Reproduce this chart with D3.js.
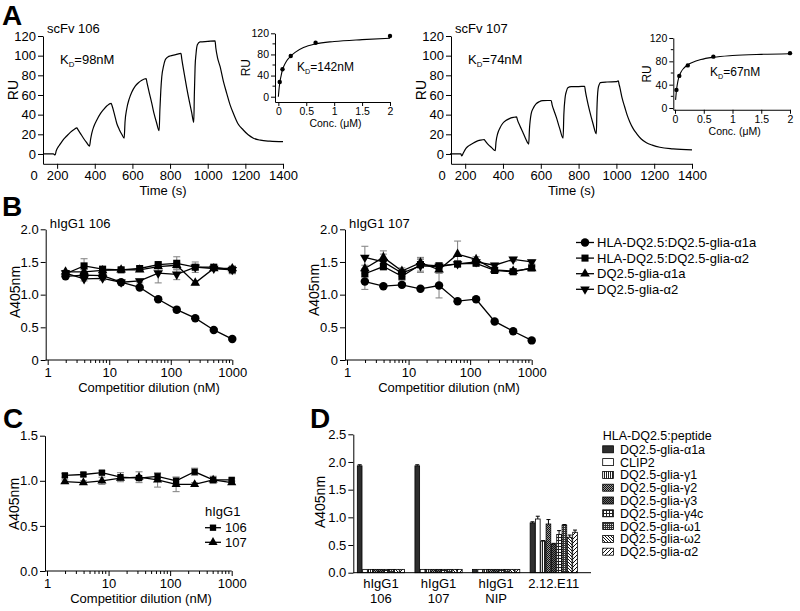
<!DOCTYPE html>
<html><head><meta charset="utf-8">
<script src="https://cdn.jsdelivr.net/npm/d3@7/dist/d3.min.js"></script>
<style>html,body{margin:0;padding:0;background:#fff}</style>
</head><body>
<svg id="fig" width="800" height="611" xmlns="http://www.w3.org/2000/svg"></svg>
<script>
// ================= DATA =================
// Panel A – sensorgrams
const timeTickLabels = [0, 200, 400, 600, 800, 1000, 1200, 1400];
const ruTicks = [0, 20, 40, 60, 80, 100, 120];
const sensorTime106 = [127,150,180,189,195,205,216,235,251,270,290,305,310,325,340,355,372,
  378,384,395,411,430,446,465,487,492,505,517,530,545,556,
  561,570,583,597,615,632,650,673,678,690,703,715,728,742,
  746,751,756,765,774,787,800,830,858,862,875,889,903,915,926,
  929,933,938,945,959,1000,1039,1043,1052,1066,1083,1101,1118,1136,1160,1189,1215,1243,1280,1330,1400];
const sensorRU106 = [0,0,0,-1,3,7,10,15,18.3,22,25,26.5,25,20.5,16,12,8,
  15,21,28,34.6,41,45,49,51.5,49,40,31,25,19.5,16,
  33,46,56,63,69,72.5,75,76.6,72,62,51.5,41,32,23.7,
  45,65,78.6,89,95.6,98.5,99.7,101,102.4,97,82,66.8,53,42,32.2,
  60,88.8,102,111,114,114.5,115,108,98,88.8,74,61.7,50.5,41.4,31,24.4,19.5,16,14,13,12.5];
const sensorTime107 = [120,150,177,182,190,204,220,239,260,280,301,305,320,340,359,
  363,372,384,398,415,434,455,472,476,490,504,520,536,
  540,549,560,575,592,611,635,655,660,670,682,700,718,
  722,729,736,743,761,800,832,836,845,858,876,894,
  897,903,909,915,950,1000,1010,1014,1018,1030,1044,1057,1071,1088,1106,1130,1159,1190,1230,1300,1400];
const sensorRU107 = [0,0,0,-2,1,5.7,8.5,10.7,12.8,14,14.7,13.5,10,6.5,3.4,
  12,20.8,26.5,31,34,36,37.2,37.8,35,28.5,22.6,15.5,10.1,
  25,40.8,46.5,51,53.2,54.2,54.4,54.4,50,44,37.5,26,16,
  40,57.8,64,67.3,68.6,68.6,68.8,64,55,44,31,20.5,
  45,66,70.5,72.6,73.2,73.5,74.5,71,68,57,47.8,39.5,32.6,26,21,15.5,11.4,9,6.8,5.2,4.2];
// Panel A – insets (steady-state)
const concPoints = [0.0247, 0.074, 0.222, 0.667, 2];
const insetRU106 = [27.8, 51.9, 77, 102, 115];
const insetRU107 = [31, 55, 73, 88, 94];
const fitConc106 = [0, 0.01, 0.025, 0.05, 0.074, 0.1, 0.15, 0.222, 0.3, 0.45, 0.667, 1, 1.5, 2];
const fitRU106 = [0, 12, 26, 40, 51, 58, 68, 77, 84, 93, 100, 104.5, 108, 110.5];
const fitConc107 = [0.01, 0.025, 0.05, 0.074, 0.1, 0.15, 0.222, 0.3, 0.45, 0.667, 1, 1.5, 2];
const fitRU107 = [14, 30, 46, 55, 61, 68, 74, 78, 83, 87, 90, 92, 93];
const insetConcTicks = [0, 0.5, 1, 1.5, 2];
const insetRUTicks = [0, 40, 80, 120];
const insetRUMinor = [20, 60, 100];

// Panels B / C – competition ELISA
const dilutions = [1.95, 3.9, 7.8, 15.6, 31.25, 62.5, 125, 250, 500, 1000];
const logTicks = [1, 10, 100, 1000];
const bYTicks = [0, 0.5, 1, 1.5, 2];
const bYTickLabels = ["0", "0.5", "1.0", "1.5", "2.0"];
const bSeriesNames = ["HLA-DQ2.5:DQ2.5-glia-α1a", "HLA-DQ2.5:DQ2.5-glia-α2", "DQ2.5-glia-α1a", "DQ2.5-glia-α2"];
const b106_HLAa1a = [1.28, 1.30, 1.29, 1.19, 1.11, 0.93, 0.77, 0.64, 0.46, 0.32];
const b106_HLAa1a_err = [0.02, 0.02, 0.02, 0.02, 0.02, 0.02, 0.04, 0.02, 0.02, 0.02];
const b106_HLAa2 = [1.32, 1.44, 1.39, 1.38, 1.40, 1.46, 1.48, 1.42, 1.42, 1.38];
const b106_HLAa2_err = [0.03, 0.11, 0.03, 0.03, 0.03, 0.04, 0.10, 0.08, 0.03, 0.06];
const b106_a1a = [1.35, 1.35, 1.37, 1.38, 1.38, 1.43, 1.45, 1.18, 1.40, 1.40];
const b106_a1a_err = [0.02, 0.03, 0.02, 0.02, 0.02, 0.03, 0.04, 0.03, 0.02, 0.03];
const b106_a2 = [1.33, 1.24, 1.25, 1.19, 1.21, 1.33, 1.31, 1.42, 1.40, 1.38];
const b106_a2_err = [0.02, 0.03, 0.03, 0.02, 0.03, 0.15, 0.08, 0.03, 0.02, 0.02];
const b107_HLAa1a = [1.20, 1.13, 1.15, 1.09, 1.14, 0.90, 0.93, 0.59, 0.44, 0.30];
const b107_HLAa1a_err = [0.12, 0.02, 0.03, 0.02, 0.19, 0.02, 0.02, 0.02, 0.02, 0.02];
const b107_HLAa2 = [1.32, 1.43, 1.28, 1.46, 1.44, 1.47, 1.48, 1.37, 1.35, 1.41];
const b107_HLAa2_err = [0.05, 0.05, 0.06, 0.10, 0.05, 0.04, 0.03, 0.04, 0.03, 0.03];
const b107_a1a = [1.40, 1.57, 1.36, 1.49, 1.38, 1.62, 1.54, 1.38, 1.36, 1.40];
const b107_a1a_err = [0.05, 0.10, 0.05, 0.08, 0.05, 0.20, 0.04, 0.04, 0.03, 0.03];
const b107_a2 = [1.57, 1.50, 1.33, 1.44, 1.43, 1.47, 1.50, 1.45, 1.54, 1.50];
const b107_a2_err = [0.17, 0.12, 0.05, 0.10, 0.04, 0.04, 0.03, 0.03, 0.03, 0.03];

const cYTicks = [0, 0.5, 1, 1.5];
const cYTickLabels = ["0.0", "0.5", "1.0", "1.5"];
const cSeriesNames = ["106", "107"];
const c106 = [1.06, 1.07, 1.09, 1.04, 1.03, 1.05, 1.00, 1.10, 1.01, 1.01];
const c106_err = [0.02, 0.02, 0.02, 0.05, 0.02, 0.03, 0.04, 0.04, 0.04, 0.02];
const c107 = [0.99, 0.98, 1.00, 1.03, 1.04, 1.01, 0.96, 0.96, 1.01, 0.98];
const c107_err = [0.02, 0.02, 0.04, 0.02, 0.06, 0.08, 0.08, 0.02, 0.02, 0.02];

// Panel D – peptide specificity
const dYTicks = [0, 0.5, 1, 1.5, 2, 2.5];
const dGroups = ["hIgG1 106", "hIgG1 107", "hIgG1 NIP", "2.12.E11"];
const dGroupLabelLines = [["hIgG1", "106"], ["hIgG1", "107"], ["hIgG1", "NIP"], ["2.12.E11"]];
const dPeptides = ["DQ2.5-glia-α1a", "CLIP2", "DQ2.5-glia-γ1", "DQ2.5-glia-γ2", "DQ2.5-glia-γ3", "DQ2.5-glia-γ4c", "DQ2.5-glia-ω1", "DQ2.5-glia-ω2", "DQ2.5-glia-α2"];
const dVals106 = [1.93, 0.06, 0.06, 0.06, 0.06, 0.06, 0.06, 0.06, 0.06];
const dErr106 = [0.02, 0, 0, 0, 0, 0, 0, 0, 0];
const dVals107 = [1.93, 0.06, 0.06, 0.06, 0.06, 0.06, 0.06, 0.06, 0.06];
const dErr107 = [0.02, 0, 0, 0, 0, 0, 0, 0, 0];
const dValsNIP = [0.06, 0.06, 0.06, 0.06, 0.06, 0.06, 0.06, 0.06, 0.06];
const dErrNIP = [0, 0, 0, 0, 0, 0, 0, 0, 0];
const dVals212 = [0.90, 0.97, 0.57, 0.88, 0.52, 0.69, 0.86, 0.64, 0.73];
const dErr212 = [0.02, 0.05, 0.01, 0.08, 0.01, 0.07, 0.01, 0.04, 0.04];

// ================= DRAWING =================
const FONT = '"Liberation Sans", Arial, Helvetica, sans-serif';
const svg = d3.select("#fig").attr("font-family", FONT);
const defs = svg.append("defs");

function fmtAxis(g, fs) {
  g.attr("font-family", FONT).attr("font-size", fs);
  g.select(".domain").attr("stroke", "#000").attr("stroke-width", 1);
  g.selectAll(".tick line").attr("stroke", "#000");
  g.selectAll(".tick text").attr("fill", "#000");
  return g;
}
function txt(x, y, s, fs, opt = {}) {
  const t = svg.append("text").attr("x", x).attr("y", y).attr("font-size", fs).attr("fill", "#000").text(s);
  if (opt.anchor) t.attr("text-anchor", opt.anchor);
  if (opt.weight) t.attr("font-weight", opt.weight);
  if (opt.rotate) t.attr("transform", `rotate(-90,${x},${y})`);
  return t;
}
function kd(x, y, val, fs) {
  const t = svg.append("text").attr("x", x).attr("y", y).attr("font-size", fs).attr("fill", "#000");
  t.append("tspan").text("K");
  t.append("tspan").attr("font-size", fs * 0.6).attr("dy", 3).text("D");
  t.append("tspan").attr("dy", -3).text("=" + val);
}

// ---- Panel A ----
function sensorPanel(x0, x1, times, rus, title, kdText) {
  const x = d3.scaleLinear().domain([125, 1400]).range([x0, x1]);
  const y = d3.scaleLinear().domain([-10, 120]).range([163.8, 36]);
  fmtAxis(svg.append("g").attr("transform", `translate(${x0},0)`)
    .call(d3.axisLeft(y).tickValues(ruTicks).tickSize(5).tickSizeOuter(0).tickPadding(2)), 13);
  fmtAxis(svg.append("g").attr("transform", `translate(0,${y(-10)})`)
    .call(d3.axisBottom(x).tickValues(timeTickLabels.filter(v => v >= 125)).tickFormat(d => String(d))
      .tickSize(5).tickSizeOuter(0).tickPadding(2)), 13);
  txt(x0 - 9, y(-10) + 16, String(timeTickLabels[0]), 13, { anchor: "middle" });
  const line = d3.line().x(d => x(d[0])).y(d => y(d[1])).curve(d3.curveMonotoneX);
  svg.append("path").datum(d3.zip(times, rus)).attr("d", line)
    .attr("fill", "none").attr("stroke", "#000").attr("stroke-width", 1.2);
  txt(x0 + 4, 33, title, 13);
  kd(x0 + 17, 64, kdText, 13);
  txt(x0 - 25, 90, "RU", 14, { anchor: "middle", rotate: true });
  txt((x0 + x1) / 2, 195, "Time (s)", 13, { anchor: "middle" });
}
function insetPanel(c) {
  const x = d3.scaleLinear().domain(c.xDom).range([c.x0, c.x1]);
  const y = d3.scaleLinear().domain(c.yDom).range([c.yB, c.yT]);
  fmtAxis(svg.append("g").attr("transform", `translate(${c.x0},0)`)
    .call(d3.axisLeft(y).tickValues(insetRUTicks).tickSize(4).tickSizeOuter(0).tickPadding(2)), 10.5);
  svg.append("g").selectAll("line").data(insetRUMinor).join("line")
    .attr("x1", c.x0 - 2.5).attr("x2", c.x0).attr("y1", d => y(d)).attr("y2", d => y(d)).attr("stroke", "#000");
  fmtAxis(svg.append("g").attr("transform", `translate(0,${c.yB})`)
    .call(d3.axisBottom(x).tickValues(insetConcTicks).tickFormat(d => String(d)).tickSize(4).tickSizeOuter(0).tickPadding(1.5)), 10.5);
  const line = d3.line().x(d => x(d[0])).y(d => y(d[1])).curve(d3.curveMonotoneX);
  svg.append("path").datum(d3.zip(c.fitX, c.fitY)).attr("d", line)
    .attr("fill", "none").attr("stroke", "#000").attr("stroke-width", 1.1);
  svg.append("g").selectAll("circle").data(d3.zip(concPoints, c.pts)).join("circle")
    .attr("cx", d => x(d[0])).attr("cy", d => y(d[1])).attr("r", 2.2).attr("fill", "#000");
  txt(c.ruX, (c.yB + c.yT) / 2, "RU", 12, { anchor: "middle", rotate: true });
  txt((c.x0 + c.x1) / 2 + 3, c.yB + 25, "Conc. (μM)", 10.5, { anchor: "middle" });
  kd(c.kdX, c.kdY, c.kdText, 12);
}

sensorPanel(43, 283, sensorTime106, sensorRU106, "scFv 106", "98nM");
sensorPanel(451, 692, sensorTime107, sensorRU107, "scFv 107", "74nM");
insetPanel({ xDom: [-0.06, 2], x0: 275, x1: 390, yDom: [-10, 120], yB: 102, yT: 33.3,
  fitX: fitConc106, fitY: fitRU106, pts: insetRU106, ruX: 250, kdX: 297, kdY: 71, kdText: "142nM" });
insetPanel({ xDom: [-0.03, 2], x0: 673.3, x1: 790, yDom: [-3, 120], yB: 109.75, yT: 38,
  fitX: fitConc107, fitY: fitRU107, pts: insetRU107, ruX: 651, kdX: 710, kdY: 76, kdText: "67nM" });

// ---- Panels B / C ----
const symType = { circle: d3.symbolCircle, square: d3.symbolSquare, up: d3.symbolTriangle, down: d3.symbolTriangle };
function marker(g, type, cx, cy, size) {
  g.append("path").attr("d", d3.symbol().type(symType[type]).size(size)())
    .attr("transform", `translate(${cx},${cy})` + (type === "down" ? " rotate(180)" : ""))
    .attr("fill", "#000");
}
function logPanel(c) {
  const x = d3.scaleLog().domain([1, 1000]).range([c.x0 + 2, c.x1]);
  const y = d3.scaleLinear().domain([0, c.yMax]).range([c.yB, c.yT]);
  fmtAxis(svg.append("g").attr("transform", `translate(${c.x0},0)`)
    .call(d3.axisLeft(y).tickValues(c.yTicks).tickFormat((d, i) => c.yLabels[i]).tickSize(5).tickSizeOuter(0).tickPadding(2)), 13);
  const gx = fmtAxis(svg.append("g").attr("transform", `translate(0,${c.yB})`)
    .call(d3.axisBottom(x).tickValues(logTicks).tickFormat(d => String(d)).tickSize(5).tickSizeOuter(0).tickPadding(3)), 13);
  gx.select(".domain").remove();
  svg.append("line").attr("x1", c.x0).attr("x2", c.x1).attr("y1", c.yB).attr("y2", c.yB).attr("stroke", "#000");
  const minor = [];
  [1, 10, 100].forEach(dec => { for (let k = 2; k <= 9; k++) minor.push(dec * k); });
  svg.append("g").selectAll("line").data(minor).join("line")
    .attr("x1", d => x(d)).attr("x2", d => x(d)).attr("y1", c.yB).attr("y2", c.yB + 3).attr("stroke", "#000");
  const g = svg.append("g");
  c.series.forEach(s => {
    s.vals.forEach((v, i) => {
      const e = s.err[i], cx = x(dilutions[i]);
      if (e <= 0) return;
      const eg = g.append("g").attr("stroke", "#8a8a8a").attr("stroke-width", 1.1);
      eg.append("line").attr("x1", cx).attr("x2", cx).attr("y1", y(v - e)).attr("y2", y(v + e));
      eg.append("line").attr("x1", cx - 3.5).attr("x2", cx + 3.5).attr("y1", y(v - e)).attr("y2", y(v - e));
      eg.append("line").attr("x1", cx - 3.5).attr("x2", cx + 3.5).attr("y1", y(v + e)).attr("y2", y(v + e));
    });
  });
  const line = d3.line().x(d => x(d[0])).y(d => y(d[1]));
  c.series.forEach(s => {
    g.append("path").datum(d3.zip(dilutions, s.vals)).attr("d", line)
      .attr("fill", "none").attr("stroke", "#000").attr("stroke-width", 1.3);
  });
  c.series.forEach(s => {
    s.vals.forEach((v, i) => marker(g, s.type, x(dilutions[i]), y(v), s.size));
  });
  txt(c.titleX, c.yB + 32, "Competitior dilution (nM)", 13, { anchor: "middle" });
  txt(c.x0 - 26, c.yLabelY, "A405nm", 14, { anchor: "middle", rotate: true });
  if (c.title) txt(c.x0 + 4, c.yT - 1, c.title, 13);
}

logPanel({ x0: 45.7, x1: 232.3, yB: 360, yT: 229.3, yMax: 2, yTicks: bYTicks, yLabels: bYTickLabels,
  title: "hIgG1 106", titleX: 149, yLabelY: 292,
  series: [
    { vals: b106_HLAa1a, err: b106_HLAa1a_err, type: "circle", size: 56 },
    { vals: b106_HLAa2, err: b106_HLAa2_err, type: "square", size: 50 },
    { vals: b106_a1a, err: b106_a1a_err, type: "up", size: 40 },
    { vals: b106_a2, err: b106_a2_err, type: "down", size: 40 }
  ] });
logPanel({ x0: 345, x1: 531.7, yB: 360, yT: 229.3, yMax: 2, yTicks: bYTicks, yLabels: bYTickLabels,
  title: "hIgG1 107", titleX: 449, yLabelY: 290,
  series: [
    { vals: b107_HLAa1a, err: b107_HLAa1a_err, type: "circle", size: 56 },
    { vals: b107_HLAa2, err: b107_HLAa2_err, type: "square", size: 50 },
    { vals: b107_a1a, err: b107_a1a_err, type: "up", size: 40 },
    { vals: b107_a2, err: b107_a2_err, type: "down", size: 40 }
  ] });
logPanel({ x0: 45, x1: 231.7, yB: 571, yT: 435.7, yMax: 1.5, yTicks: cYTicks, yLabels: cYTickLabels,
  title: null, titleX: 141, yLabelY: 504,
  series: [
    { vals: c106, err: c106_err, type: "square", size: 40 },
    { vals: c107, err: c107_err, type: "up", size: 36 }
  ] });

// legend B
const bTypes = ["circle", "square", "up", "down"];
bSeriesNames.forEach((name, i) => {
  const yy = 242.5 + i * 15.6;
  const g = svg.append("g");
  g.append("line").attr("x1", 576).attr("x2", 594).attr("y1", yy).attr("y2", yy).attr("stroke", "#000").attr("stroke-width", 1.3);
  marker(g, bTypes[i], 585, yy, bTypes[i] === "circle" ? 56 : (bTypes[i] === "square" ? 50 : 40));
  txt(597, yy + 4.6, name, 13);
});
// legend C
txt(205, 516, "hIgG1", 13);
const cTypes = ["square", "up"];
cSeriesNames.forEach((name, i) => {
  const yy = 527.7 + i * 14.6;
  const g = svg.append("g");
  g.append("line").attr("x1", 205).attr("x2", 221).attr("y1", yy).attr("y2", yy).attr("stroke", "#000").attr("stroke-width", 1.3);
  marker(g, cTypes[i], 213, yy, cTypes[i] === "square" ? 40 : 36);
  txt(225, yy + 4.6, name, 13);
});

// ---- Panel D ----
function mkPat(id, size, bg, draw) {
  const p = defs.append("pattern").attr("id", id).attr("patternUnits", "userSpaceOnUse").attr("width", size).attr("height", size);
  p.append("rect").attr("width", size).attr("height", size).attr("fill", bg);
  draw(p);
}
mkPat("pG1", 2, "#fff", p => p.append("rect").attr("width", 1).attr("height", 2).attr("fill", "#222"));
mkPat("pG2", 2, "#999", p => { p.append("rect").attr("width", 1).attr("height", 1).attr("fill", "#111"); p.append("rect").attr("x", 1).attr("y", 1).attr("width", 1).attr("height", 1).attr("fill", "#111"); });
mkPat("pG3", 2, "#666", p => { p.append("rect").attr("width", 1).attr("height", 1).attr("fill", "#111"); p.append("rect").attr("x", 1).attr("y", 1).attr("width", 1).attr("height", 1).attr("fill", "#111"); });
mkPat("pG4", 3, "#fff", p => { p.append("rect").attr("width", 1).attr("height", 3).attr("fill", "#222"); p.append("rect").attr("width", 3).attr("height", 1).attr("fill", "#222"); });
mkPat("pW1", 2, "#333", p => p.append("rect").attr("width", 1).attr("height", 1).attr("fill", "#ddd"));
mkPat("pW2", 3, "#fff", p => p.append("path").attr("d", "M-1,-1L4,4M-1,2L1,4M2,-1L4,1").attr("stroke", "#111").attr("stroke-width", 1));
mkPat("pA2", 4, "#fff", p => p.append("path").attr("d", "M-1,5L5,-1M-1,1L1,-1M3,5L5,3").attr("stroke", "#111").attr("stroke-width", 1));
const barFills = ["#2e2e2e", "#fff", "url(#pG1)", "url(#pG2)", "url(#pG3)", "url(#pG4)", "url(#pW1)", "url(#pW2)", "url(#pA2)"];

(function () {
  const x0 = 353.3;
  const y = d3.scaleLinear().domain([0, 2.5]).range([572.7, 434.3]);
  const xg = d3.scaleBand().domain(dGroups).range([x0, 581.4]).paddingInner(0.18).paddingOuter(0.07);
  const xb = d3.scaleBand().domain(dPeptides).range([0, xg.bandwidth()]).paddingInner(0.12);
  fmtAxis(svg.append("g").attr("transform", `translate(${x0},0)`)
    .call(d3.axisLeft(y).tickValues(dYTicks).tickFormat(d3.format(".1f")).tickSize(5).tickSizeOuter(0).tickPadding(2)), 13);
  const groupVals = [[dVals106, dErr106], [dVals107, dErr107], [dValsNIP, dErrNIP], [dVals212, dErr212]];
  dGroups.forEach((gname, gi) => {
    const [vals, errs] = groupVals[gi];
    const gx = xg(gname);
    dPeptides.forEach((p, pi) => {
      const bx = gx + xb(p), bw = xb.bandwidth(), v = vals[pi], e = errs[pi];
      if (e > 0) {
        const cx = bx + bw / 2;
        svg.append("line").attr("x1", cx).attr("x2", cx).attr("y1", y(v)).attr("y2", y(v + e)).attr("stroke", "#000");
        svg.append("line").attr("x1", cx - 2).attr("x2", cx + 2).attr("y1", y(v + e)).attr("y2", y(v + e)).attr("stroke", "#000");
      }
      svg.append("rect").attr("x", bx).attr("y", y(v)).attr("width", bw).attr("height", y(0) - y(v))
        .attr("fill", barFills[pi]).attr("stroke", "#000").attr("stroke-width", 0.8);
    });
    dGroupLabelLines[gi].forEach((ln, li) => txt(gx + xg.bandwidth() / 2, 588 + li * 14.5, ln, 13, { anchor: "middle" }));
  });
  svg.append("line").attr("x1", x0).attr("x2", 591).attr("y1", y(0)).attr("y2", y(0)).attr("stroke", "#000");
  txt(325, 502, "A405nm", 14, { anchor: "middle", rotate: true });
  // legend D
  txt(602.7, 440, "HLA-DQ2.5:peptide", 12.5);
  dPeptides.forEach((p, i) => {
    const yy = 449.3 + i * 12.8;
    svg.append("rect").attr("x", 602.7).attr("y", yy - 3.5).attr("width", 10.7).attr("height", 7)
      .attr("fill", barFills[i]).attr("stroke", "#000").attr("stroke-width", 0.8);
    txt(620, yy + 4.5, p, 12.5);
  });
})();

// panel letters
txt(2, 25, "A", 28, { weight: "bold" });
txt(2, 216, "B", 28, { weight: "bold" });
txt(3, 428, "C", 28, { weight: "bold" });
txt(310, 428, "D", 28, { weight: "bold" });
</script>
</body></html>
